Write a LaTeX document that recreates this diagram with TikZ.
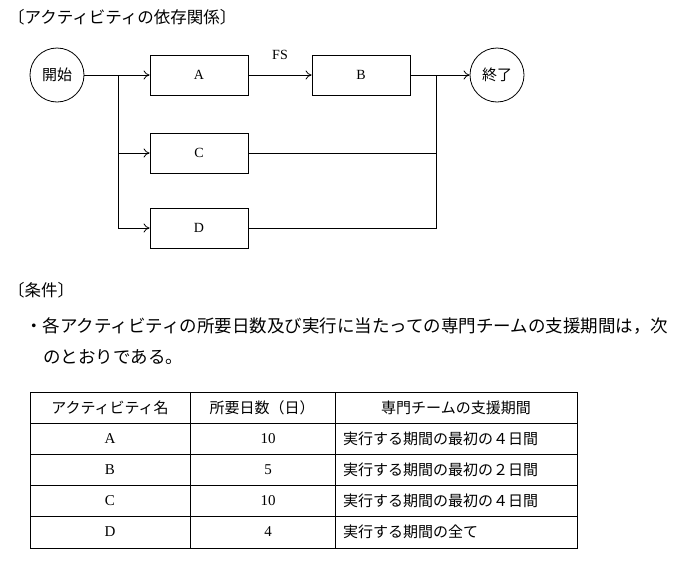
\documentclass[tikz,border=0pt]{standalone}
\usepackage{fontspec}
\setmainfont{Noto Sans CJK JP}
\newfontfamily\lat{Liberation Serif}
\usetikzlibrary{arrows.meta}
\begin{document}
\begin{tikzpicture}[x=1pt,y=-1pt,
  box/.style={draw,line width=0.8pt,minimum width=98pt,minimum height=40pt,inner sep=0pt,font=\fontsize{14}{14}\selectfont\lat},
  circ/.style={draw,circle,line width=0.8pt,minimum size=54pt,inner sep=0pt,font=\fontsize{15}{15}\selectfont},
  arr/.style={line width=0.8pt,-{To[length=6pt,width=9pt]}},
  ln/.style={line width=0.8pt},
  txt/.style={font=\fontsize{17.5}{17.5}\selectfont,inner sep=0pt,anchor=west},
  cell/.style={font=\fontsize{15}{15}\selectfont,inner sep=0pt}]
\useasboundingbox (0,0) rectangle (695,565);
\node[txt,font=\fontsize{16.5}{16.5}\selectfont] (title) at (8,17) {〔アクティビティの依存関係〕};
\node[circ] (st) at (57,75) {開始};
\node[box] (A) at (199,75) {A};
\node[box] (B) at (361,75) {B};
\node[box] (C) at (199,153) {C};
\node[box] (D) at (199,228) {D};
\node[circ] (en) at (497,75) {終了};
\node[font=\fontsize{14}{14}\selectfont\lat] (fs) at (280,55) {FS};
\coordinate (j1) at (118,75);
\coordinate (j1c) at (118,153);
\coordinate (j1d) at (118,228);
\coordinate (j2) at (436,75);
\coordinate (j2c) at (436,153);
\coordinate (j2d) at (436,228);
\draw[arr] (st) -- (A);
\draw[ln] (j1) -- (j1d);
\draw[arr] (j1c) -- (C);
\draw[arr] (j1d) -- (D);
\draw[arr] (A) -- (B);
\draw[arr] (B) -- (en);
\draw[ln] (C) -- (j2c);
\draw[ln] (D) -- (j2d) -- (j2);
\node[txt,font=\fontsize{16.5}{16.5}\selectfont] (cond) at (8,290) {〔条件〕};
\node[txt] (l1) at (25,326) {・各アクティビティの所要日数及び実行に当たっての専門チームの支援期間は，次};
\node[txt] (l2) at (43,357) {のとおりである。};
\draw[ln] (30,392) rectangle (577,548);
\foreach \y in {423,454,485,516} \draw[ln] (30,\y) -- (577,\y);
\foreach \x in {190,335} \draw[ln] (\x,392) -- (\x,548);
\node[cell] (h1) at (110,407.5) {アクティビティ名};
\node[cell] (h2) at (262,407.5) {所要日数（日）};
\node[cell] (h3) at (456,407.5) {専門チームの支援期間};
\foreach \n/\d/\s [count=\i] in {A/10/実行する期間の最初の４日間,B/5/実行する期間の最初の２日間,C/10/実行する期間の最初の４日間,D/4/実行する期間の全て}{
  \pgfmathsetmacro\yy{407.5+31*\i}
  \node[cell,font=\fontsize{15}{15}\selectfont\lat] (n\i) at (110,\yy) {\n};
  \node[cell,font=\fontsize{15}{15}\selectfont\lat] (d\i) at (268,\yy) {\d};
  \node[cell,anchor=west] (s\i) at (343,\yy) {\s};
}
\end{tikzpicture}
\end{document}
